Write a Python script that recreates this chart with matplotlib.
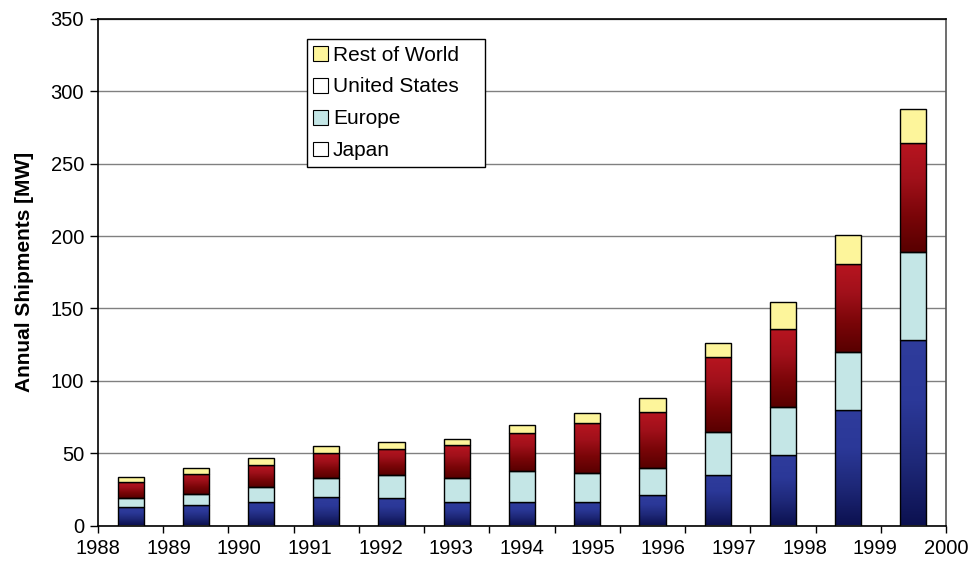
import matplotlib
matplotlib.use("Agg")
import matplotlib.pyplot as plt
import numpy as np
from matplotlib.colors import LinearSegmentedColormap
from matplotlib.patches import Patch

plt.rcParams['font.family'] = ['Liberation Sans', 'DejaVu Sans']

# 13 bars (categories), x-axis labels 1988..2000 spread evenly over the axis
year_labels = ['1988', '1989', '1990', '1991', '1992', '1993', '1994',
               '1995', '1996', '1997', '1998', '1999', '2000']
japan = [12.8, 14.0, 16.2, 19.7, 18.8, 16.2, 16.0, 16.0, 20.9, 34.7, 48.7, 79.8, 128.2]
europe = [6.4, 7.8, 10.4, 13.3, 15.9, 16.6, 21.9, 20.1, 18.6, 30.1, 33.4, 40.1, 61.0]
usa = [10.9, 14.0, 15.0, 16.9, 18.2, 22.6, 25.8, 34.5, 38.9, 51.4, 53.7, 60.8, 75.2]
rest = [3.2, 4.2, 4.8, 5.3, 4.8, 4.4, 5.5, 6.9, 9.9, 9.7, 18.9, 20.1, 23.2]

n = len(japan)
x = np.arange(n) + 0.5
j = np.array(japan); e = np.array(europe); u = np.array(usa); r = np.array(rest)

fig = plt.figure(figsize=(9.73, 5.62), dpi=100)
ax = fig.add_axes([98/973, 1 - 525.5/562, 848/973, 506.5/562])

ax.set_yticks(np.arange(0, 351, 50))
ax.yaxis.grid(True, color='#808080', linewidth=1.0)
ax.set_axisbelow(True)

w = 0.4
blue_cmap = LinearSegmentedColormap.from_list('b', ['#0c1150', '#1e2878', '#2b3898', '#2f3c9c'])
red_cmap = LinearSegmentedColormap.from_list('r', ['#580000', '#7a0508', '#a0101a', '#b81520'])

bj = ax.bar(x, j, w, color='none', edgecolor='black', linewidth=1.0, zorder=3)
be = ax.bar(x, e, w, bottom=j, color='#c4e6e6', edgecolor='black', linewidth=1.0, zorder=3)
bu = ax.bar(x, u, w, bottom=j + e, color='none', edgecolor='black', linewidth=1.0, zorder=3)
br = ax.bar(x, r, w, bottom=j + e + u, color='#fdf59b', edgecolor='black', linewidth=1.0, zorder=3)

grad = np.linspace(0, 1, 256).reshape(-1, 1)
for bars, cmap in ((bj, blue_cmap), (bu, red_cmap)):
    for p in bars:
        x0, y0 = p.get_x(), p.get_y()
        ww, hh = p.get_width(), p.get_height()
        ax.imshow(grad, cmap=cmap, origin='lower', aspect='auto',
                  extent=(x0, x0 + ww, y0, y0 + hh), zorder=2.5,
                  interpolation='bilinear')
ax.set_xlim(0, n)
ax.set_ylim(0, 350)

# tick marks at category boundaries
ax.set_xticks(np.arange(0, n + 1))
ax.set_xticklabels([])
ax.tick_params(axis='x', which='major', direction='out', length=5, width=1)
ax.tick_params(axis='y', direction='out', length=6, width=1, labelsize=14.5, pad=4)

# year labels evenly spread from the left edge to the right edge
sec = ax.secondary_xaxis('bottom')
sec.set_xticks(np.linspace(0, n, len(year_labels)))
sec.set_xticklabels(year_labels)
sec.tick_params(length=0, pad=10, labelsize=14.5)
sec.spines['bottom'].set_visible(False)

for s in ('left', 'bottom', 'top'):
    ax.spines[s].set_color('black')
    ax.spines[s].set_linewidth(1.2)
ax.spines['right'].set_color('#555555')
ax.spines['right'].set_linewidth(1.2)

ax.set_ylabel('Annual Shipments [MW]', fontsize=15, fontweight='bold', labelpad=12)

handles = [Patch(facecolor='#fdf59b', edgecolor='black', lw=0.8),
           Patch(facecolor='white', edgecolor='black', lw=0.8),
           Patch(facecolor='#c4e6e6', edgecolor='black', lw=0.8),
           Patch(facecolor='white', edgecolor='black', lw=0.8)]
labels = ['Rest of World', 'United States', 'Europe', 'Japan']
leg_w = (485 - 307) / 848
leg_h = (165 - 39.3) / 506.5
leg_top = (525.5 - 39.3) / 506.5
leg = ax.legend(handles, labels, loc='upper left',
                bbox_to_anchor=(0.246, leg_top - leg_h, leg_w, leg_h), mode='expand',
                fontsize=15, frameon=True, fancybox=False, edgecolor='black',
                framealpha=1, handlelength=0.72, handleheight=0.72, handletextpad=0.25,
                labelspacing=0.62, borderpad=0.3, borderaxespad=0)
leg.get_frame().set_linewidth(1.0)
leg.set_zorder(5)

fig.savefig('out.png', dpi=100)
